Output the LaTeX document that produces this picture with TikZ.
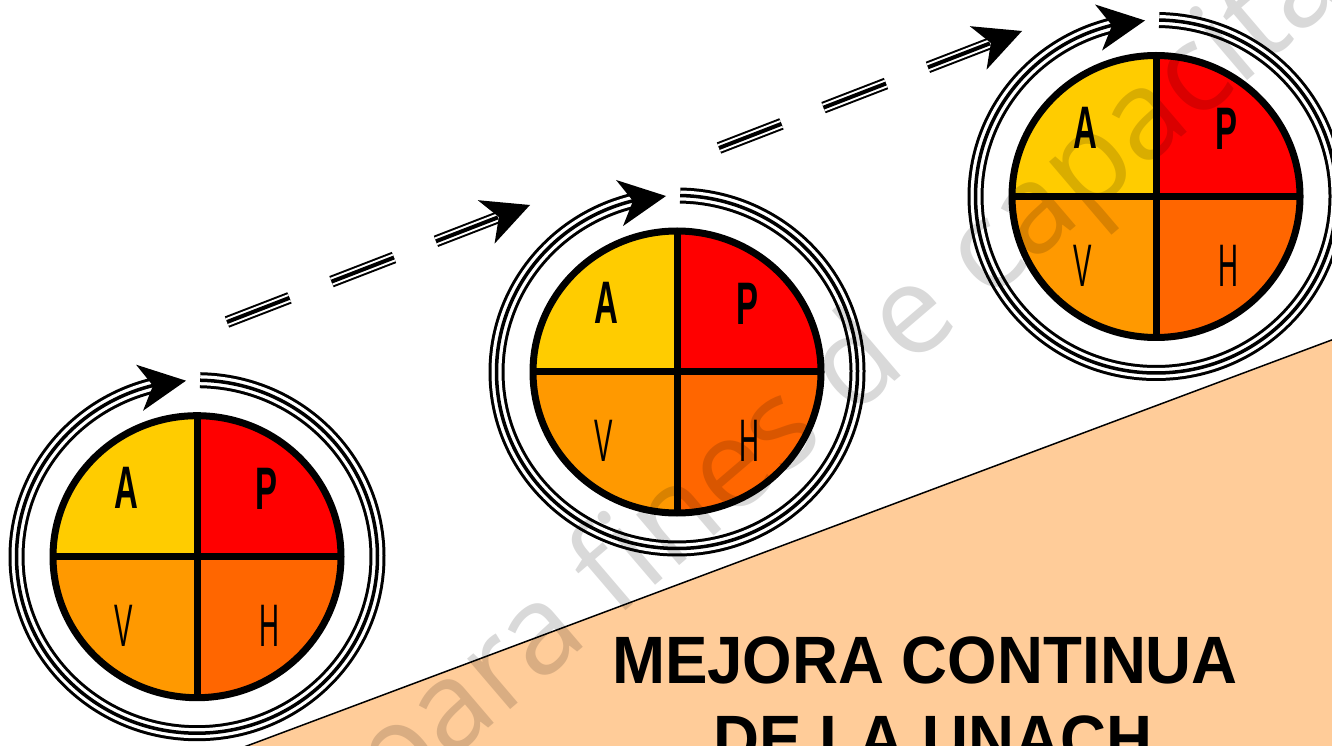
\documentclass[tikz,border=0pt]{standalone}
\usepackage{fontspec}
\setmainfont{Liberation Sans}
\newfontfamily\wmfont{Open Sans}
\definecolor{qyel}{HTML}{FFCC00}
\definecolor{qred}{HTML}{FF0000}
\definecolor{qora}{HTML}{FF9900}
\definecolor{qdark}{HTML}{FF6600}
\definecolor{peach}{HTML}{FFCC99}
\newcommand\wheelbig[1]{\scalebox{0.55}[1]{\bfseries #1}}
\newcommand\wheelthin[1]{\scalebox{0.46}[1]{#1}}
\tikzset{
  ringout/.style={line width=16pt, black},
  ringmid/.style={line width=10pt, white},
  ringin/.style={line width=3.5pt, black},
  dashout/.style={line width=12pt, black, dash pattern=on 67pt off 45pt},
  dashmid/.style={line width=8pt, white, dash pattern=on 67pt off 45pt},
  dashin/.style={line width=4pt, black, dash pattern=on 67pt off 45pt},
  quadletter/.style={inner sep=0pt, font=\fontsize{60}{60}\selectfont},
  border/.style={line width=7pt, black},
  headtip/.pic={\fill[black] (0,0) -- (-47,23.3) -- (-33.4,0) -- (-47,-23.3) -- cycle;},
  wheel/.pic={
    \fill[qyel] (0,0) -- (180:144 and 141) arc[start angle=180,end angle=90,x radius=144,y radius=141] -- cycle;
    \fill[qred] (0,0) -- (90:144 and 141) arc[start angle=90,end angle=0,x radius=144,y radius=141] -- cycle;
    \fill[qora] (0,0) -- (180:144 and 141) arc[start angle=180,end angle=270,x radius=144,y radius=141] -- cycle;
    \fill[qdark] (0,0) -- (270:144 and 141) arc[start angle=270,end angle=360,x radius=144,y radius=141] -- cycle;
    \draw[border] (-144,0) -- (144,0);
    \draw[border] (0,-141) -- (0,141);
    \draw[border] (0,0) ellipse [x radius=144, y radius=141];
    \node[quadletter] (-A) at (-71,69) {\wheelbig{A}};
    \node[quadletter] (-P) at (70,68) {\wheelbig{P}};
    \node[quadletter] (-V) at (-73,-69) {\wheelthin{V}};
    \node[quadletter] (-H) at (72,-69) {\wheelthin{H}};
    \draw[ringout] (89:180.5 and 176.5) arc[start angle=89,end angle=-256,x radius=180.5,y radius=176.5];
    \draw[ringmid] (89:180.5 and 176.5) arc[start angle=89,end angle=-256,x radius=180.5,y radius=176.5];
    \draw[ringin] (89:180.5 and 176.5) arc[start angle=89,end angle=-256,x radius=180.5,y radius=176.5];
    \pic[rotate=8.6] at (-11,176) {headtip};
  }
}
\begin{document}
\begin{tikzpicture}[x=1pt,y=1pt]
\useasboundingbox (0,0) rectangle (1332,745);
\clip (0,0) rectangle (1332,745);
\fill[white] (0,0) rectangle (1332,745);
% peach band
\fill[peach] (250,0) -- (1332,405) -- (1340,405) -- (1340,-5) -- (250,-5) -- cycle;
\draw[line width=1.5pt] (236,-5) -- (1345,410);
% wheels
\pic (w1) at (197,188.3) {wheel};
\pic (w2) at (677,373) {wheel};
\pic (w3) at (1156,548.5) {wheel};
% dashed arrows
\coordinate (d1s) at (227,423);
\coordinate (d1t) at (530,540);
\coordinate (d2s) at (719,597);
\coordinate (d2t) at (1022,714);
\foreach \s/\t in {d1s/d1t, d2s/d2t}{
  \draw[dashout, shorten >=34.5pt] (\s) -- (\t);
  \draw[dashmid, shorten >=34.5pt] (\s) -- (\t);
  \draw[dashin, shorten >=34.5pt] (\s) -- (\t);
  \pic[rotate=21.1] at (\t) {headtip};
}
% title
\node[anchor=base, inner sep=0pt, font=\fontsize{67}{79}\selectfont\bfseries] (title1) at (925,62) {\scalebox{0.95}[1]{MEJORA CONTINUA}};
\node[anchor=base, inner sep=0pt, font=\fontsize{67}{79}\selectfont\bfseries] (title2) at (933,-17) {\scalebox{0.95}[1]{DE LA UNACH}};
% watermark
\node[rotate=40.5, anchor=base west, inner sep=0pt, text=black, text opacity=0.15, font=\wmfont\fontsize{124}{124}\selectfont] (wm) at (392,-66) {para fines de capacitación};
\end{tikzpicture}
\end{document}
